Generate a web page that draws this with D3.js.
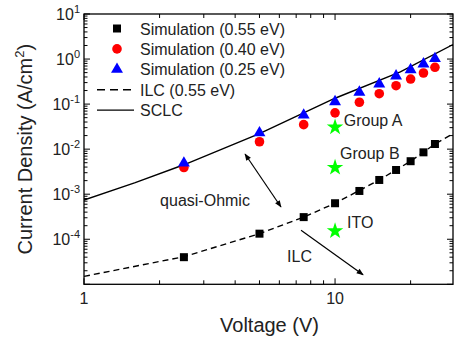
<!DOCTYPE html>
<html>
<head>
<meta charset="utf-8">
<script src="https://cdn.jsdelivr.net/npm/d3@7.9.0/dist/d3.min.js"></script>
<style>
  body { margin: 0; background: #fff; }
  text { font-family: "Liberation Sans", Arial, sans-serif; fill: #222; }
</style>
</head>
<body>
<svg id="chart" width="454" height="344"></svg>
<script>
// voltages of the simulated points
const voltages = [2.5, 5, 7.5, 10, 12.5, 15, 17.5, 20, 22.5, 25];
const sim055 = [4.0e-5, 1.33e-4, 3.1e-4, 6.3e-4, 1.18e-3, 2.07e-3, 3.45e-3, 5.4e-3, 8.5e-3, 0.013];
const sim040 = [3.9e-3, 0.0146, 0.035, 0.064, 0.11, 0.17, 0.256, 0.36, 0.49, 0.656];
const sim025 = [4.9e-3, 0.023, 0.057, 0.113, 0.183, 0.279, 0.42, 0.58, 0.776, 1.02];

// ILC fit (dashed) and SCLC (solid)
const ilcV = [1, 2.5, 5, 7.5, 10, 15, 20, 25, 29.5];
const ilcJ = [1.5e-5, 4.1e-5, 1.33e-4, 3.1e-4, 6.3e-4, 2.07e-3, 5.4e-3, 0.013, 0.022];
const scclV = [1, 1.6, 2.5, 5, 10, 18.2, 29.5];
const scclJ = [7.4e-4, 1.8e-3, 4.5e-3, 0.022, 0.135, 0.52, 2.1];

// measured groups at 10 V
const groupNames = ['Group A', 'Group B', 'ITO'];
const groupV = [10, 10, 10];
const groupJ = [0.0306, 3.9e-3, 1.52e-4];

const xTickLabels = ['1', '10'];
const yExponents = [-4, -3, -2, -1, 0, 1];

const svg = d3.select('#chart');
const pLeft = 84, pRight = 453, pTop = 14, pBottom = 284.3;

const x = d3.scaleLog().domain([1, 29.5]).range([pLeft, pRight]);
const y = d3.scaleLog().domain([1e-5, 10]).range([pBottom, pTop]);

// frame
svg.append('rect')
  .attr('x', pLeft).attr('y', pTop)
  .attr('width', pRight - pLeft).attr('height', pBottom - pTop)
  .attr('fill', 'none').attr('stroke', '#000').attr('stroke-width', 1.3);

// ticks (inward, all four sides)
const xTicks = [1, 2, 3, 4, 5, 6, 7, 8, 9, 10, 20];
const yTicks = [];
for (let e = -5; e <= 1; e++) {
  for (let m = 1; m <= 9; m++) {
    const v = m * Math.pow(10, e);
    if (v <= 10) yTicks.push(v);
  }
}
const isMajor = v => Math.abs(Math.log10(v) - Math.round(Math.log10(v))) < 1e-9;

const tg = svg.append('g').attr('stroke', '#000').attr('stroke-width', 1);
xTicks.forEach(v => {
  const len = isMajor(v) ? 6 : 4;
  tg.append('line').attr('x1', x(v)).attr('x2', x(v)).attr('y1', pBottom).attr('y2', pBottom - len);
  tg.append('line').attr('x1', x(v)).attr('x2', x(v)).attr('y1', pTop).attr('y2', pTop + len);
});
yTicks.forEach(v => {
  const len = isMajor(v) ? 6 : 3.5;
  tg.append('line').attr('x1', pLeft).attr('x2', pLeft + len).attr('y1', y(v)).attr('y2', y(v));
  tg.append('line').attr('x1', pRight).attr('x2', pRight - len).attr('y1', y(v)).attr('y2', y(v));
});

// tick labels
xTickLabels.forEach(t => {
  svg.append('text')
    .attr('x', x(+t)).attr('y', pBottom + 20)
    .attr('text-anchor', 'middle')
    .attr('font-size', 16)
    .text(t);
});
yExponents.forEach(e => {
  const t = svg.append('text')
    .attr('x', pLeft - 4).attr('y', y(Math.pow(10, e)) + 6)
    .attr('text-anchor', 'end')
    .attr('font-size', 16);
  t.append('tspan').text('10');
  t.append('tspan').attr('dy', -7).attr('font-size', 11).text(e);
});

// axis titles
svg.append('text')
  .attr('x', (pLeft + pRight) / 2 + 1).attr('y', 332)
  .attr('text-anchor', 'middle')
  .attr('font-size', 20)
  .text('Voltage (V)');

const yt = svg.append('text')
  .attr('transform', `translate(32,${(pTop + pBottom) / 2}) rotate(-90)`)
  .attr('text-anchor', 'middle')
  .attr('font-size', 20);
yt.append('tspan').text('Current Density (A/cm');
yt.append('tspan').attr('dy', -8).attr('font-size', 13).text('2');
yt.append('tspan').attr('dy', 8).text(')');

// clip
svg.append('clipPath').attr('id', 'clip')
  .append('rect').attr('x', pLeft).attr('y', pTop).attr('width', pRight - pLeft).attr('height', pBottom - pTop);

const line = d3.line().x(d => x(d[0])).y(d => y(d[1]));

svg.append('path')
  .attr('clip-path', 'url(#clip)')
  .attr('d', line(scclV.map((v, i) => [v, scclJ[i]])))
  .attr('fill', 'none').attr('stroke', '#000').attr('stroke-width', 1.4);

svg.append('path')
  .attr('clip-path', 'url(#clip)')
  .attr('d', line(ilcV.map((v, i) => [v, ilcJ[i]])))
  .attr('fill', 'none').attr('stroke', '#000').attr('stroke-width', 1.4)
  .attr('stroke-dasharray', '6,4');

// markers
const square = d3.symbol().type(d3.symbolSquare).size(64);
const tri = d3.symbol().type(d3.symbolTriangle).size(62);
const star = d3.symbol().type(d3.symbolStar).size(85);

svg.append('g').selectAll('path')
  .data(voltages.map((v, i) => [v, sim055[i]]))
  .join('path')
  .attr('transform', d => `translate(${x(d[0])},${y(d[1])})`)
  .attr('d', square).attr('fill', '#000');

svg.append('g').selectAll('circle')
  .data(voltages.map((v, i) => [v, sim040[i]]))
  .join('circle')
  .attr('cx', d => x(d[0])).attr('cy', d => y(d[1]))
  .attr('r', 4.8).attr('fill', '#ff0000');

svg.append('g').selectAll('path')
  .data(voltages.map((v, i) => [v, sim025[i]]))
  .join('path')
  .attr('transform', d => `translate(${x(d[0])},${y(d[1])})`)
  .attr('d', tri).attr('fill', '#0000ff');

svg.append('g').selectAll('path')
  .data(groupV.map((v, i) => [v, groupJ[i]]))
  .join('path')
  .attr('transform', d => `translate(${x(d[0])},${y(d[1])})`)
  .attr('d', star).attr('fill', '#00ff00');

// annotations
const labels = [
  { text: groupNames[0], v: 10.83, j: 0.0327 },
  { text: groupNames[1], v: 10.47, j: 5.95e-3 },
  { text: groupNames[2], v: 11.16, j: 1.78e-4 },
  { text: 'quasi-Ohmic', v: 2.01, j: 5.6e-4 },
  { text: 'ILC', v: 6.44, j: 3.1e-5 }
];
svg.append('g').selectAll('text')
  .data(labels)
  .join('text')
  .attr('x', d => x(d.v)).attr('y', d => y(d.j))
  .attr('font-size', 16)
  .text(d => d.text);

// arrows
const defs = svg.append('defs');
defs.append('marker').attr('id', 'ah')
  .attr('viewBox', '0 0 10 10').attr('refX', 9).attr('refY', 5)
  .attr('markerWidth', 8).attr('markerHeight', 7)
  .attr('markerUnits', 'userSpaceOnUse')
  .attr('orient', 'auto-start-reverse')
  .append('path').attr('d', 'M0,1 L10,5 L0,9 Z').attr('fill', '#000');

const arrows = [
  { v1: 4.38, j1: 7.8e-3, v2: 6.09, j2: 5.2e-4, both: true },
  { v1: 7.32, j1: 1.58e-4, v2: 12.93, j2: 1.63e-5, both: false }
];
arrows.forEach(a => {
  const l = svg.append('line')
    .attr('x1', x(a.v1)).attr('y1', y(a.j1))
    .attr('x2', x(a.v2)).attr('y2', y(a.j2))
    .attr('stroke', '#000').attr('stroke-width', 1.2)
    .attr('marker-end', 'url(#ah)');
  if (a.both) l.attr('marker-start', 'url(#ah)');
});

// legend
const legendRows = [
  { label: 'Simulation (0.55 eV)', kind: 'square' },
  { label: 'Simulation (0.40 eV)', kind: 'circle' },
  { label: 'Simulation (0.25 eV)', kind: 'tri' },
  { label: 'ILC (0.55 eV)', kind: 'dash' },
  { label: 'SCLC', kind: 'solid' }
];
const lg = svg.append('g');
legendRows.forEach((r, i) => {
  const cy = 28.5 + i * 20.4;
  const g = lg.append('g').attr('transform', `translate(0,${cy})`);
  if (r.kind === 'square') g.append('path').attr('transform', 'translate(117,0)').attr('d', square).attr('fill', '#000');
  if (r.kind === 'circle') g.append('circle').attr('cx', 117).attr('r', 4.8).attr('fill', '#ff0000');
  if (r.kind === 'tri') g.append('path').attr('transform', 'translate(117,0)').attr('d', tri).attr('fill', '#0000ff');
  if (r.kind === 'dash' || r.kind === 'solid') {
    const ln = g.append('line').attr('x1', 97).attr('x2', 134)
      .attr('stroke', '#000').attr('stroke-width', 1.4);
    if (r.kind === 'dash') ln.attr('stroke-dasharray', '8,5');
  }
  g.append('text').attr('x', 140).attr('y', 6).attr('font-size', 16).text(r.label);
});
</script>
</body>
</html>
